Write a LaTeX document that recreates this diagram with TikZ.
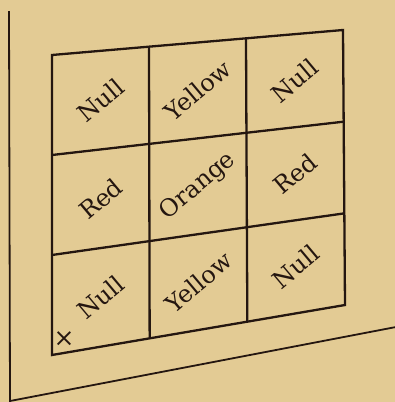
\documentclass[tikz,border=0pt]{standalone}
\usepackage{fontspec}
\usepackage{tikz}
\usetikzlibrary{calc}
\newfontfamily\labelfont{DejaVu Serif}
\definecolor{paper}{RGB}{227,203,148}
\definecolor{ink}{RGB}{36,22,16}

\begin{document}
\begin{tikzpicture}[
        x=1pt, y=-1pt,
        wall/.style={draw=ink, line width=1.8pt},
        gridline/.style={draw=ink, line width=2.3pt, line join=miter},
        colourname/.style={text=ink, font=\labelfont\fontsize{24}{24}\selectfont, rotate=40, inner sep=0pt}
    ]

    % --- Paper ---
    \fill[paper] (0,0) rectangle (395,402);
    \useasboundingbox (0,0) rectangle (395,402);

    % --- Wall ---
    \coordinate (wall top) at (9,11);
    \coordinate (wall corner) at (10,401);
    \coordinate (wall right) at (396,327);
    \draw[wall] (wall top) -- (wall corner) -- (wall right);

    % --- Frame corners ---
    \coordinate (tl) at (52,55);
    \coordinate (tr) at (343,30);
    \coordinate (br) at (345,305);
    \coordinate (bl) at (52,355);
    \draw[gridline] (tl) -- (tr) -- (br) -- (bl) -- cycle;

    % --- Inner lines ---
    \foreach \t in {1,2} {
        \pgfmathsetmacro\f{\t/3}
        \draw[gridline] ($(tl)!\f!(tr)$) -- ($(bl)!\f!(br)$);
        \draw[gridline] ($(tl)!\f!(bl)$) -- ($(tr)!\f!(br)$);
    }

    % --- Colour names ---
    \foreach \i/\j/\word in {
        0/0/Null, 0/1/Yellow, 0/2/Null,
        1/0/Red,  1/1/Orange, 1/2/Red,
        2/0/Null, 2/1/Yellow, 2/2/Null
    } {
        \pgfmathsetmacro\u{(2*\j+1)/6}
        \pgfmathsetmacro\v{(2*\i+1)/6}
        \coordinate (top) at ($(tl)!\u!(tr)$);
        \coordinate (bot) at ($(bl)!\u!(br)$);
        \node[colourname] (cell-\i-\j) at ($(top)!\v!(bot)$) {\word};
    }

    % --- Cross in the corner ---
    \node[text=ink, inner sep=0pt, font=\labelfont\fontsize{25}{25}\selectfont] (cross) at (64,339) {×};

\end{tikzpicture}
\end{document}
